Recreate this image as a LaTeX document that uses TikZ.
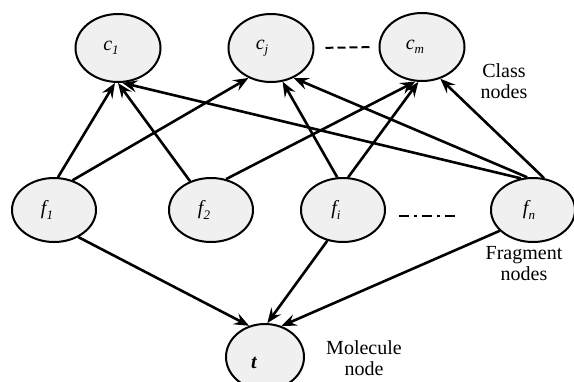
\documentclass[tikz,border=0pt]{standalone}
\usepackage{fontspec}
\setmainfont{Liberation Serif}
\usetikzlibrary{shapes.geometric,arrows.meta}
\newcommand\lsub[1]{\raisebox{-4.5pt}{\fontsize{13}{13}\selectfont\itshape #1}}
\begin{document}
\begin{tikzpicture}[x=1pt,y=-1pt,
  nd/.style={ellipse,draw,line width=2pt,fill=gray!12,inner sep=0pt,
    font=\fontsize{20}{22}\selectfont\itshape},
  cnode/.style={nd,minimum width=85pt,minimum height=68pt},
  fnode/.style={nd,minimum width=84pt,minimum height=64pt},
  ar/.style={line width=2.6pt,-{Stealth[length=15pt,width=12pt,inset=5.5pt]}},
  lbl/.style={align=center,inner sep=0pt,font=\fontsize{20}{21}\selectfont}]
\clip (0,0) rectangle (574,381);
\fill[white] (0,0) rectangle (574,381);
% class nodes
\node[cnode] (c1) at (118,48) {c\lsub{1}\hspace*{14pt}};
\node[cnode] (cj) at (271,48) {c\lsub{j}\hspace*{18pt}};
\node[cnode] (cm) at (422,47) {c\lsub{m}\hspace*{14pt}};
% fragment nodes
\node[fnode] (f1) at (54,210) {f\lsub{1}\hspace*{14pt}};
\node[fnode] (f2) at (211,210) {f\lsub{2}\hspace*{14pt}};
\node[fnode] (fi) at (343,210) {f\lsub{i}\hspace*{14pt}};
\node[fnode] (fn) at (533,210) {f\lsub{n}\hspace*{8pt}};
% molecule node
\node[nd,minimum width=78pt,minimum height=66pt,text height=23pt] (t) at (265,357) {\bfseries t\hspace*{22pt}};
% labels
\node[lbl] (lc) at (504,81) {Class\\nodes};
\node[lbl] (lf) at (524,264) {Fragment\\nodes};
\node[lbl] (lm) at (364,358) {Molecule\\node};
% dotted connectors
\draw[line width=2pt,dash pattern=on 8pt off 4pt,shorten <=11pt,shorten >=8pt] (cj.east) -- (cm.west);
\draw[line width=2pt,dash pattern=on 10pt off 5pt on 3pt off 5pt,shorten <=56pt,shorten >=77pt]
  ([yshift=-6pt]fi.center) -- ([yshift=-6pt]fn.center);
% edges to class nodes
\draw[ar] (f1.83) -- (c1.-95);
\draw[ar] (f1.58) -- (cj.-127);
\draw[ar] (f2.126) -- (c1.-90);
\draw[ar] (f2.64) -- (cm.-101);
\draw[ar] (fi.100) -- (cj.-71);
\draw[ar] (fi.81) -- (cm.-96);
\draw[ar] (fn.111) -- (c1.-83);
\draw[ar] (fn.100) -- (cj.-53);
\draw[ar] (fn.71) -- (cm.-60);
% edges to molecule node
\draw[ar] (f1.-48) -- (t.117);
\draw[ar] (fi.-117) -- (t.86);
\draw[ar] (fn.-148) -- (t.62);
\end{tikzpicture}
\end{document}
